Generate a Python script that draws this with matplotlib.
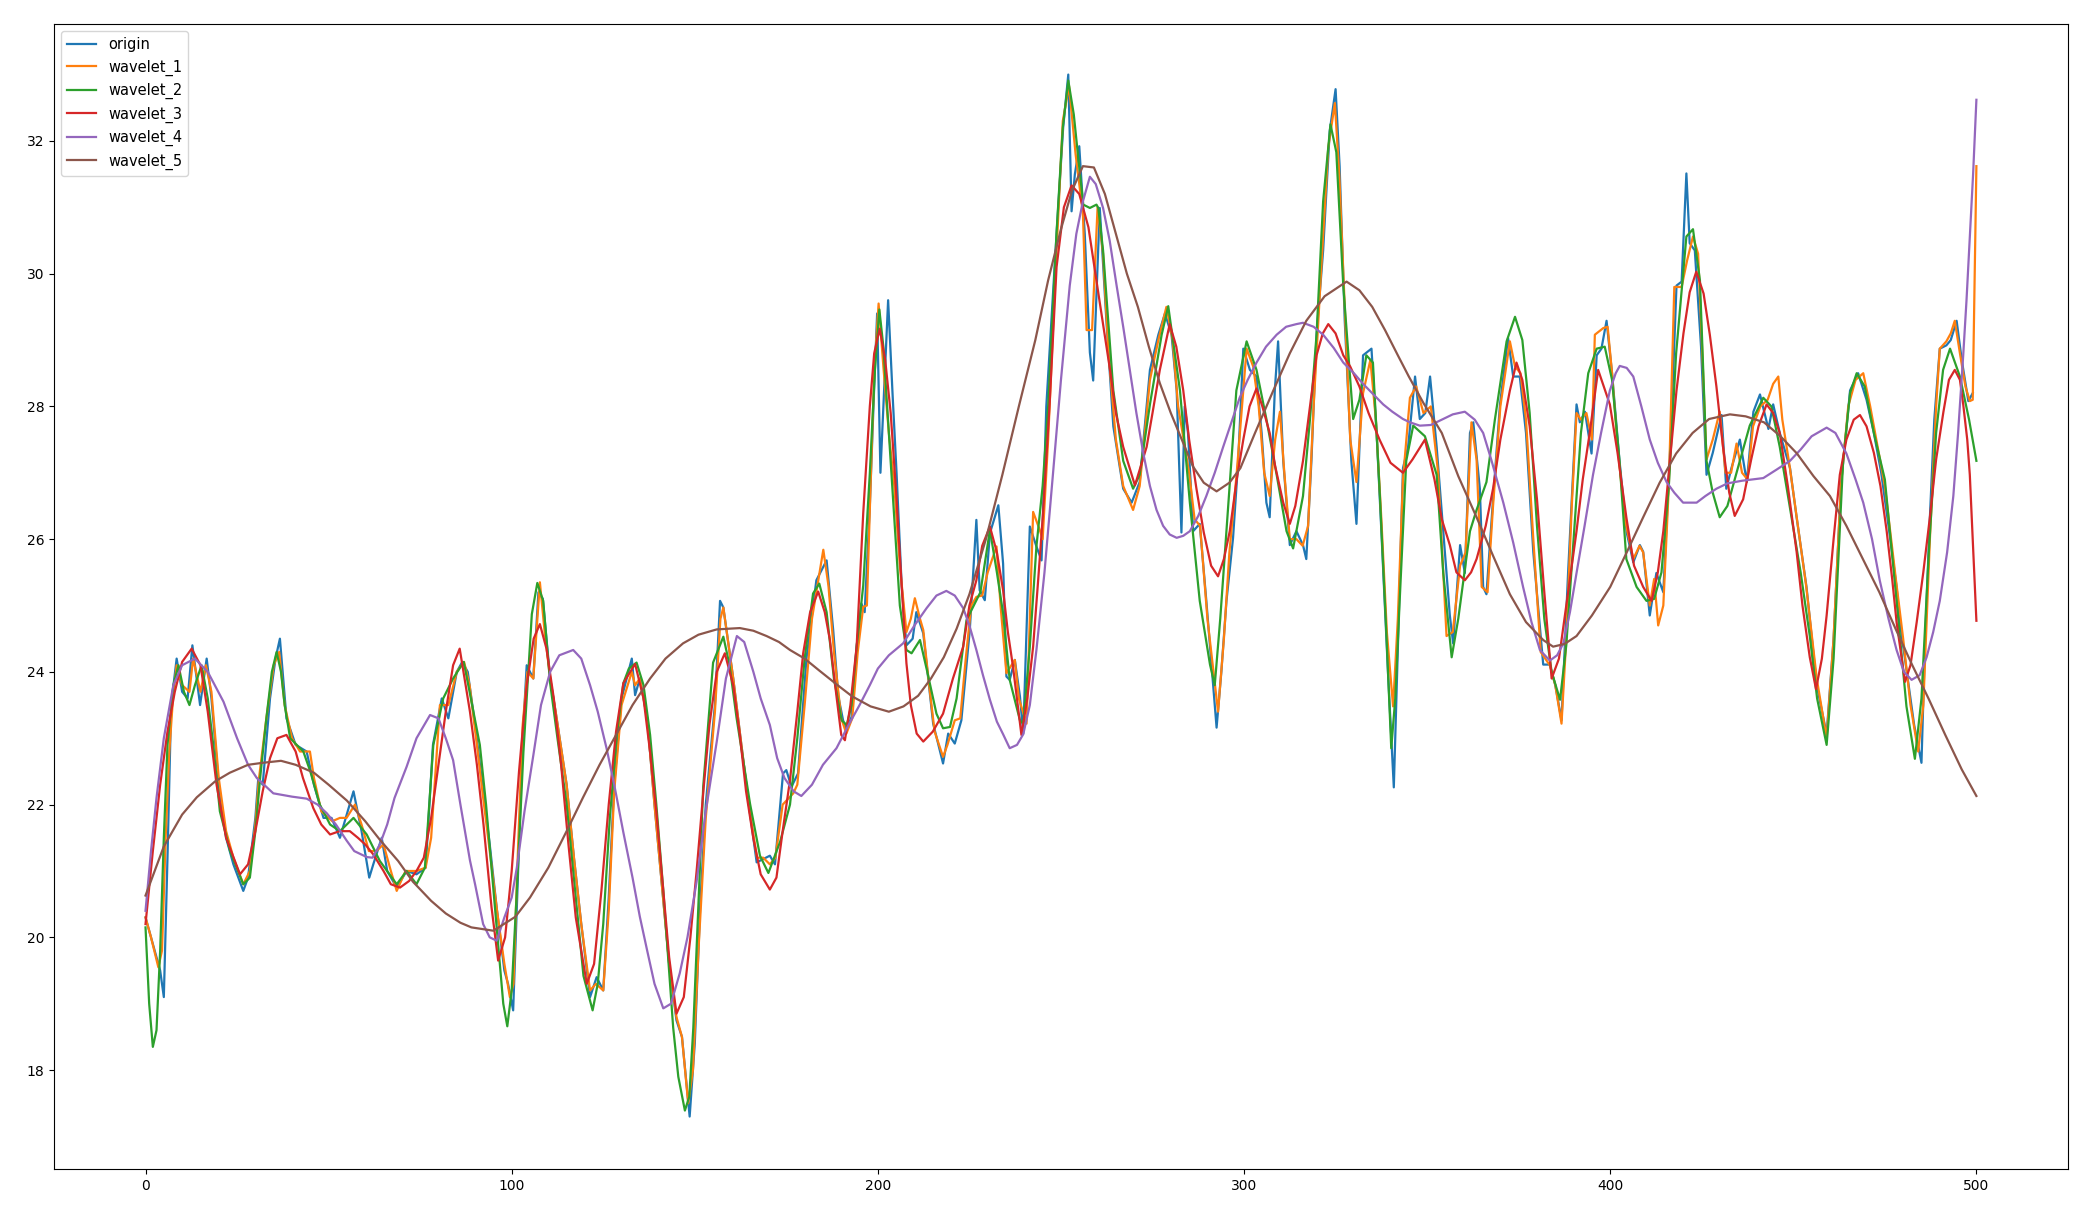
import numpy as np
import matplotlib
matplotlib.use("Agg")
from matplotlib import pyplot as plt

####################################### data (x, value)
origin = [
    (0, 20.3), (2, 19.9), (4, 19.5), (5, 19.1), (6, 21.2), (7, 23.5), (8.5, 24.2), (10, 23.7), (11.5, 23.6),
    (12.8, 24.4), (14.9, 23.5), (16.7, 24.2), (18, 23.6), (20, 22.3), (22, 21.5), (24, 21.1), (26.7, 20.7),
    (28, 20.9), (30, 21.8), (30.8, 22.4), (32, 22.3), (34, 23.6), (35.5, 24.2), (36.7, 24.5), (38.5, 23.3),
    (41, 22.9), (44, 22.8), (46, 22.3), (48.6, 21.8), (50.8, 21.8), (53.1, 21.5), (56.8, 22.2), (59, 21.6),
    (61.1, 20.9), (62.2, 21.1), (64.5, 21.5), (66, 21.0), (68.6, 20.75), (71.3, 21.0), (74, 20.95), (76.5, 21.05),
    (78.5, 22.9), (80.9, 23.6), (82.7, 23.3), (85, 24.0), (86.5, 24.15),
    (88, 24.0), (90, 23.2), (92, 22.3), (94, 21.4), (96, 20.4), (98, 19.5), (99, 19.3), (100.4, 18.9),
    (101.5, 20.6), (103, 23.0), (104.1, 24.1), (105.9, 23.9), (107.3, 25.2), (108.5, 25.1), (110.5, 23.9),
    (112, 23.4), (115, 22.3), (117, 21.2), (119, 20.2), (121.4, 19.1), (123.2, 19.4), (125, 19.2), (126.5, 20.6),
    (128, 22.3), (130, 23.6), (132.8, 24.2), (133.7, 23.65), (135, 23.9), (137, 23.3), (139, 22.0), (141, 20.8),
    (143, 19.6), (145, 18.75), (146.5, 18.5), (148.6, 17.3), (150, 18.4), (151.5, 20.5), (153, 22.0),
    (155.5, 23.5), (156.9, 25.07), (157.8, 24.97), (160.5, 23.9), (162.5, 23.0), (165, 21.9), (166.9, 21.13),
    (170.5, 21.23), (171.9, 21.1), (174.1, 22.47), (175, 22.52), (176.4, 22.27), (178.2, 22.47), (180.5, 24.2),
    (183.2, 25.38), (186, 25.68), (187.8, 24.63), (189.2, 23.63), (190.5, 23.27), (191.4, 23.12), (192.8, 23.32),
    (194.2, 24.38), (195.5, 25.03), (196.4, 24.9), (197.8, 26.5), (199, 28.3), (199.8, 29.4), (200.7, 27.0),
    (202.8, 29.6), (204, 28.2), (205.1, 27.0), (206.5, 25.3), (207.8, 24.4), (209.5, 24.5), (210.5, 24.9),
    (212.4, 24.58), (215.1, 23.22), (217.8, 22.62), (219.2, 23.07), (221, 22.92), (222.8, 23.27), (225.1, 24.63),
    (226.9, 26.29), (227.8, 25.23), (229.2, 25.08), (230.6, 26.09), (232.9, 26.51), (234.2, 25.63), (235.1, 23.93),
    (236, 23.88), (237.4, 24.18), (238.8, 23.63), (239.7, 23.07), (241.5, 26.19), (243.3, 25.89), (244.7, 25.68),
    (246, 28.0), (248.8, 30.6), (250.6, 32.2), (252, 33.0), (252.9, 30.94), (253.8, 31.5), (255, 31.92),
    (256.5, 30.6), (257.9, 28.81), (258.8, 28.39), (260.6, 30.99), (262.4, 29.3), (264.3, 27.7), (267, 26.76),
    (269.3, 26.55), (271.5, 26.86), (274.3, 28.55), (276.6, 29.08), (278.4, 29.4), (280.2, 29.08), (281.6, 28.24),
    (282.9, 26.1), (283.8, 28.0), (284.7, 27.6), (286.1, 26.12), (287.9, 26.23), (289.7, 25.07), (292.5, 23.16),
    (293.8, 24.0), (295.2, 25.07), (297, 26.02), (298.4, 27.18), (299.8, 28.87), (301.6, 28.55), (303.4, 28.45),
    (304.8, 27.6), (306.1, 26.55), (307, 26.33), (308.4, 28.24), (309.3, 28.98), (310.7, 27.18), (312.5, 25.91),
    (314.3, 26.12), (316.1, 25.91), (317, 25.7), (318.4, 27.18), (319.8, 29.08), (321.6, 30.35), (323.4, 32.15),
    (325, 32.78), (326.1, 31.62), (327.5, 29.29), (329.3, 27.18), (330.7, 26.23), (332.5, 28.77), (334.8, 28.87),
    (336.2, 27.6), (337.5, 26.12), (339.3, 24.0), (340.9, 22.26), (342.1, 24.54), (343.4, 27.07), (344.8, 27.39),
    (346.7, 28.45), (348, 27.81), (349.5, 27.9), (350.8, 28.45), (352.6, 27.39), (354.4, 26.12), (356.2, 24.85),
    (357.1, 24.43), (359, 25.91), (360.3, 25.49), (361.7, 27.6), (362.6, 27.76), (364.4, 26.76), (365.3, 25.28),
    (366.2, 25.17), (368, 26.6), (369.9, 28.03), (372.1, 29.03), (373.5, 28.45), (375.3, 28.45), (377, 27.6),
    (379, 25.8), (381.7, 24.11), (383.5, 24.11), (385, 23.8), (386.7, 23.27), (388.5, 25.5), (390.8, 28.03),
    (391.7, 27.76), (393.1, 27.92), (394.9, 27.29), (396.3, 28.77), (397.6, 28.87), (399, 29.29), (400.5, 28.5),
    (402.5, 27.2), (404.5, 26.1), (406.3, 25.65), (408.1, 25.91), (409, 25.81), (410.8, 24.85), (412.6, 25.49),
    (414.5, 25.2), (416.5, 27.5), (418.1, 29.82), (419.5, 29.88), (420.8, 31.51), (421.7, 30.46), (423.1, 30.35),
    (424.8, 28.9), (426.3, 26.97), (428, 27.3), (430.4, 27.87), (431.7, 26.76), (433.1, 27.07), (435.4, 27.5),
    (437.3, 26.86), (439.1, 27.92), (440.9, 28.18), (443.2, 27.66), (444.5, 28.03), (446.3, 27.6), (449.1, 27.07),
    (450.9, 26.33), (453.6, 25.28), (456.4, 23.8), (459.1, 23.06), (461, 24.5), (463, 26.8), (465.5, 28.24),
    (467.7, 28.5), (470, 28.1), (472, 27.6), (474, 27.0), (476, 26.2), (478.2, 25.28), (479.1, 24.75),
    (481, 24.0), (483, 23.2), (485, 22.63), (486, 24.5), (487.3, 26.33), (488.5, 27.8), (490, 28.87),
    (491.8, 28.92), (493, 29.0), (494.6, 29.29), (496, 28.7), (497.8, 28.08), (499, 28.2),
]

wavelet_1 = [
    (0, 20.3), (1.5, 20.0), (3.5, 19.55), (4.5, 19.8), (5.5, 21.5), (6.5, 22.8), (7.5, 23.6), (8.5, 24.1),
    (10, 23.8), (12, 23.7), (13, 24.2), (15, 23.7), (16.5, 24.1), (18, 23.7), (20, 22.4), (22, 21.6), (24, 21.2),
    (26.7, 20.8), (28.5, 21.0), (30, 21.7), (31, 22.4), (33, 23.3), (35, 24.1), (36.5, 24.3), (38, 23.5),
    (40, 23.0), (42.2, 22.8), (44.9, 22.8), (46, 22.4), (48, 21.9), (51, 21.75), (53.1, 21.8), (54.9, 21.8),
    (57.2, 22.0), (59, 21.7), (61, 21.3), (63, 21.3), (65, 21.4), (67, 21.0), (68.6, 20.7), (71, 21.0),
    (74, 21.0), (76.5, 21.05), (78, 21.5), (80.4, 23.5), (82.7, 23.5), (85, 24.0), (87, 24.15),
    (88.5, 23.8), (90.5, 22.9), (92, 22.2), (94, 21.3), (96, 20.4), (98, 19.6), (99.5, 19.1), (100.5, 19.3),
    (101.5, 21.0), (103, 23.2), (104.3, 24.0), (105.9, 23.9), (107.7, 25.35), (109, 24.6), (110.5, 23.9),
    (112, 23.4), (115, 22.3), (117, 21.2), (119, 20.2), (121.4, 19.2), (123, 19.3), (125, 19.2), (126.5, 20.4),
    (128, 22.2), (130, 23.5), (132.8, 24.0), (133.7, 23.8), (135, 23.9), (137, 23.3), (139, 22.0), (141, 20.8),
    (143, 19.6), (145, 18.8), (146.5, 18.5), (148.2, 17.5), (149.5, 18.0), (151, 19.8), (153, 21.8),
    (155.5, 23.4), (157, 24.8), (157.8, 24.97), (160.5, 23.9), (162.5, 23.0), (165, 21.9), (167, 21.2),
    (168.7, 21.2), (170.5, 21.1), (172, 21.2), (174, 22.0), (176.9, 22.17), (178, 22.3), (180, 23.5),
    (182, 24.8), (185.1, 25.84), (186.5, 25.3), (188, 24.3), (190, 23.3), (191.4, 23.07), (193, 23.3),
    (194.5, 24.3), (196, 24.98), (197, 25.0), (198, 26.8), (199, 28.5), (200.2, 29.55), (201.5, 28.6),
    (203, 27.6), (204.5, 26.8), (206, 25.6), (207.8, 24.6), (209, 24.8), (210.1, 25.11), (211.5, 24.8),
    (212.4, 24.63), (214, 23.8), (215.5, 23.1), (217.8, 22.72), (219, 22.9), (221, 23.27), (222.5, 23.3),
    (224, 24.2), (225.5, 25.0), (226.9, 25.13), (228.5, 25.15), (230, 25.5), (232.4, 25.89), (233.5, 25.0),
    (235.1, 23.98), (237.4, 24.18), (238.5, 23.6), (240.6, 23.22), (242.4, 26.41), (244.2, 26.14), (245, 26.0),
    (246.5, 27.5), (248.5, 30.0), (250.5, 32.3), (252.2, 32.83), (254, 31.8), (256, 30.9), (257, 29.15),
    (258.5, 29.15), (260, 31.0), (261.5, 30.3), (263, 28.8), (265, 27.5), (267, 26.8), (269.7, 26.44),
    (271.5, 26.8), (274.3, 28.4), (276.6, 29.0), (278.8, 29.5), (280.5, 29.0), (282, 28.0), (283.5, 27.5),
    (285, 27.0), (286.5, 26.3), (288, 26.2), (290, 24.8), (292.9, 23.4), (294.5, 24.5), (296, 25.8), (298, 27.0),
    (300.7, 28.87), (302.5, 28.6), (304, 28.0), (305.5, 27.0), (307, 26.65), (308.5, 27.5), (309.8, 27.92),
    (311, 27.0), (312.5, 26.0), (314.3, 26.0), (316, 25.9), (317.5, 26.2), (319, 28.0), (321, 30.0), (323, 31.9),
    (324.8, 32.57), (326, 31.5), (327.5, 29.5), (329, 27.5), (330.7, 26.86), (332.5, 28.2), (334.5, 28.7),
    (336, 27.8), (337.5, 26.3), (339, 24.6), (340.7, 23.48), (342, 24.8), (343.4, 26.9), (345.3, 28.13),
    (347, 28.3), (349, 27.9), (351, 28.0), (353, 27.0), (355.3, 24.54), (357, 24.6), (359, 25.6), (360.5, 25.8),
    (362.1, 27.76), (363.5, 27.2), (364.9, 25.28), (366.5, 25.2), (368, 26.5), (370, 28.0), (372.6, 28.98),
    (374, 28.6), (375.5, 28.5), (377, 27.8), (379, 26.0), (381, 24.3), (383.5, 24.1), (385, 23.8),
    (386.7, 23.22), (388, 24.5), (389.5, 26.5), (390.8, 27.9), (392, 27.8), (393.5, 27.9), (395, 27.5),
    (395.8, 29.08), (398.1, 29.18), (399.3, 29.2), (400.5, 28.5), (402, 27.4), (404, 26.3), (406.3, 25.7),
    (408, 25.9), (409, 25.8), (410.8, 25.0), (412, 25.4), (413.1, 24.7), (414.5, 25.0), (416, 26.8),
    (417.5, 29.8), (419.5, 29.8), (421, 30.2), (422.6, 30.56), (424, 30.3), (425, 29.0), (426.3, 27.2),
    (428, 27.5), (429.9, 27.92), (431.5, 27.0), (433, 27.0), (434.5, 27.44), (436, 27.0), (437.5, 26.9),
    (439, 27.7), (441, 28.0), (443, 28.1), (444.5, 28.34), (445.9, 28.45), (447, 27.8), (449, 27.1), (451, 26.3),
    (453.5, 25.3), (456.4, 23.9), (459.1, 23.0), (461, 24.5), (463, 26.8), (465, 28.0), (467, 28.4),
    (469.1, 28.5), (471, 28.0), (473, 27.4), (475, 26.8), (478, 25.4), (480, 24.5), (482, 23.5), (484.1, 22.8),
    (485.5, 23.5), (487.3, 26.0), (489, 28.0), (490, 28.87), (491.8, 28.98), (493, 29.1), (494.1, 29.29),
    (495.5, 28.8), (497, 28.3), (498.2, 28.08), (499, 28.1), (500, 31.62),
]

wavelet_2 = [
    (0, 20.15), (1, 19.0), (2, 18.35), (3, 18.6), (4, 19.8), (5, 21.5), (6, 22.9), (7.6, 23.8), (9, 24.1),
    (10.5, 23.7), (12, 23.5), (13.5, 23.8), (15.3, 24.1), (17, 23.6), (18.5, 22.9), (20.3, 21.9), (23.1, 21.3),
    (26.7, 20.8), (28.5, 20.9), (30, 21.6), (31.3, 22.4), (33, 23.3), (34.5, 24.0), (35.8, 24.3), (37, 24.0),
    (38, 23.5), (39.5, 23.0), (43.1, 22.8), (45, 22.5), (47.6, 22.0), (50.4, 21.7), (53.1, 21.6), (56.8, 21.8),
    (60.4, 21.55), (64, 21.15), (68.6, 20.8), (71.3, 21.0), (74, 20.8), (76.3, 21.05), (78.6, 22.9),
    (81.3, 23.6), (84, 23.9), (86.9, 24.15),
    (88.5, 23.7), (91.3, 22.9), (93, 22.0), (95, 20.72), (97.7, 19.0), (98.8, 18.66), (100, 19.2),
    (101.4, 20.7), (103.2, 22.79), (105.5, 24.87), (107, 25.34), (108.6, 25.07), (110.5, 23.83), (112.5, 23.0),
    (115, 22.01), (117.5, 20.6), (119.6, 19.42), (122.1, 18.9), (123.5, 19.3), (125, 20.2), (126.8, 21.8),
    (128.7, 23.05), (130.5, 23.83), (132, 24.05), (134.1, 24.14), (136, 23.8), (137.8, 23.05), (139.5, 22.0),
    (141.4, 20.71), (144.1, 18.64), (145.5, 17.9), (147.3, 17.39), (148.5, 17.6), (149.6, 18.64), (151, 20.5),
    (152.3, 22.27), (155, 24.14), (157.8, 24.53), (159.5, 24.1), (161.4, 23.31), (165.1, 22.01),
    (167.8, 21.23), (170.1, 20.97), (173.3, 21.44), (176, 22.0), (178, 23.0), (180, 24.2), (182.3, 25.18),
    (184, 25.33), (186, 24.9), (188, 23.9), (190.1, 23.27), (191.5, 23.2), (192.8, 23.5), (194.2, 24.38),
    (196, 25.3), (197.8, 26.99), (199.2, 28.55), (200.4, 29.46), (201.5, 28.9), (203, 27.6), (204.5, 26.3),
    (206, 25.0), (207.8, 24.33), (209.2, 24.28), (211.5, 24.48), (213.5, 24.0), (216, 23.37), (217.8, 23.15),
    (219.7, 23.17), (221.5, 23.6), (224.2, 24.78), (226, 24.98), (228, 25.2), (230.6, 26.14), (232.5, 25.5),
    (234.2, 24.88), (236, 23.88), (238.8, 23.27), (239.7, 23.22), (241.5, 24.38), (243.3, 25.89), (245, 26.8),
    (246.5, 28.0), (248.8, 30.62), (250.5, 32.2), (252, 32.91), (253.5, 32.4), (255, 31.6), (256.1, 31.04),
    (257.9, 30.99), (259.7, 31.04), (260.2, 30.99), (261.5, 30.35), (264.3, 28.24), (267, 27.18),
    (269.7, 26.76), (271.5, 26.97), (274.3, 28.03), (277.5, 29.08), (279.3, 29.51), (282.5, 28.24),
    (285.2, 26.55), (287.9, 25.07), (290.7, 24.11), (292, 23.8), (293.5, 24.8), (295.2, 26.12), (297.9, 28.24),
    (300.7, 28.98), (303.4, 28.55), (306.1, 27.81), (308.9, 26.97), (311.6, 26.12), (313.4, 25.86),
    (316.1, 26.65), (318, 27.8), (319.8, 29.08), (321.6, 31.09), (323.6, 32.25), (325.2, 31.83), (327.1, 29.82),
    (329.8, 27.81), (331.5, 28.1), (333.4, 28.77), (335.2, 28.66), (337.1, 26.65), (338.9, 24.54),
    (340.2, 22.85), (341.3, 23.6), (342.5, 25.07), (344.3, 27.18), (346.2, 27.71), (349.4, 27.55),
    (352.6, 26.97), (354.4, 25.49), (356.7, 24.22), (358.5, 24.8), (361.7, 26.12), (363.5, 26.44),
    (366.2, 26.86), (368.5, 27.8), (371.7, 28.98), (374, 29.35), (376, 29.0), (378, 27.9), (380, 26.2),
    (382, 24.8), (384, 24.0), (386.3, 23.58), (388, 24.4), (390, 26.0), (392, 27.6), (394, 28.5), (396.3, 28.87),
    (398.5, 28.9), (400.5, 28.4), (402.5, 27.2), (404.4, 25.7), (407.2, 25.28), (409.9, 25.07), (412, 25.1),
    (414, 25.5), (416, 26.8), (418, 28.8), (420.8, 30.56), (422.6, 30.67), (424.5, 29.9), (426.3, 27.18),
    (428, 26.7), (429.9, 26.33), (432, 26.5), (435, 27.1), (438.1, 27.71), (441.8, 28.13), (444, 28.0),
    (446.3, 27.39), (449, 26.5), (452, 25.5), (454.5, 24.54), (456.5, 23.6), (459.1, 22.9), (461, 24.2),
    (463.6, 27.18), (465.5, 28.2), (467.3, 28.5), (469.5, 28.3), (472, 27.6), (475, 26.9), (478.2, 25.07),
    (480.9, 23.48), (483.2, 22.69), (485, 23.6), (487, 25.8), (489, 27.6), (490.9, 28.55), (492.8, 28.87),
    (495.5, 28.45), (498, 27.8), (500, 27.18),
]

wavelet_3 = [
    (0, 20.2), (2, 21.3), (4, 22.3), (6, 23.1), (8, 23.7), (10, 24.15), (12.6, 24.35), (15, 24.1), (17, 23.4),
    (19.4, 22.3), (22, 21.5), (25.8, 20.95), (28, 21.1), (30, 21.6), (32, 22.2), (34, 22.7), (36, 23.0),
    (38.5, 23.05), (41, 22.8), (43, 22.4), (45.8, 21.95), (48, 21.7), (50.4, 21.55), (53, 21.6), (55.8, 21.6),
    (58, 21.5), (60, 21.4), (62.2, 21.25), (65, 21.0), (67, 20.8), (69.5, 20.75), (72, 20.85), (74, 21.0),
    (76, 21.2), (78, 21.8), (80, 22.6), (82, 23.4), (84, 24.1), (85.8, 24.35), (88.6, 23.4), (90.5, 22.6),
    (92.3, 21.7), (94.5, 20.45), (96.3, 19.65), (98.2, 20.0), (100, 21.0), (102, 22.5), (104.1, 23.8),
    (106, 24.5), (107.7, 24.72), (109.5, 24.35), (111.5, 23.6), (113.5, 22.6), (115.5, 21.4), (117.5, 20.3),
    (120.5, 19.3), (122.5, 19.6), (124.5, 20.7), (126.5, 22.0), (128.5, 23.1), (130.5, 23.83), (133.7, 24.12),
    (136, 23.6), (137.8, 22.79), (139.5, 21.9), (141.4, 20.71), (143, 19.7), (145, 18.85), (147, 19.1),
    (148.8, 20.0), (150.5, 21.0), (152.5, 22.3), (154, 23.2), (156, 24.0), (158.2, 24.28), (160.5, 23.8),
    (162.3, 23.05), (164, 22.2), (166, 21.49), (168, 20.95), (170.5, 20.72), (172.3, 20.9), (174, 21.6),
    (176, 22.37), (178, 23.4), (179.6, 24.28), (181.5, 24.9), (183.7, 25.21), (185.5, 24.9), (186.9, 24.48),
    (188.7, 23.63), (190, 23.05), (191, 22.97), (192.5, 23.5), (194.2, 24.38), (196, 26.39), (197.8, 28.0),
    (199, 28.8), (200.5, 29.17), (202, 28.7), (203.5, 27.9), (205, 26.7), (206.5, 25.3), (207.8, 24.13),
    (209, 23.5), (210.6, 23.07), (212.4, 22.95), (215, 23.1), (217.8, 23.37), (220.5, 23.9), (223.3, 24.38),
    (225, 25.0), (226.9, 25.38), (228.5, 25.9), (230.6, 26.19), (232.5, 25.8), (234.2, 25.23), (235.5, 24.6),
    (236.9, 24.08), (239.2, 23.05), (240.8, 23.6), (242.4, 24.38), (243.8, 25.4), (245.1, 26.39),
    (246.9, 28.03), (248.8, 30.1), (250.8, 31.0), (252.9, 31.33), (255, 31.2), (257.5, 30.7), (260.5, 29.6),
    (263.4, 28.55), (265, 27.9), (267, 27.39), (270.2, 26.81), (273.4, 27.39), (275, 27.9), (277, 28.55),
    (279.7, 29.24), (281.5, 28.9), (283.4, 28.24), (285, 27.5), (287, 26.76), (289, 26.1), (291, 25.6),
    (292.9, 25.44), (294.5, 25.7), (296.1, 26.12), (298, 26.9), (299.8, 27.5), (301.5, 28.0), (303.4, 28.27),
    (305, 28.0), (307, 27.6), (308.5, 27.1), (310.7, 26.55), (312.5, 26.23), (314, 26.5), (316.1, 27.18),
    (318, 28.0), (319.8, 28.77), (321.5, 29.1), (323, 29.24), (325, 29.1), (327.1, 28.77), (329, 28.6),
    (331.5, 28.3), (334, 27.9), (337, 27.5), (340, 27.15), (343.4, 27.0), (346, 27.2), (349.4, 27.5),
    (352, 26.9), (354, 26.3), (356.2, 25.91), (358, 25.5), (360.3, 25.38), (362, 25.5), (363.5, 25.7),
    (366, 26.2), (368, 26.76), (370, 27.5), (372.6, 28.24), (374.4, 28.66), (376, 28.4), (378, 27.7),
    (380, 26.6), (382, 25.2), (384, 23.9), (386, 24.2), (388, 25.0), (390.8, 26.12), (392.5, 26.9),
    (394.4, 27.6), (396.7, 28.55), (399.9, 28.03), (402, 27.3), (404.4, 26.33), (406.5, 25.6), (409, 25.28),
    (411.3, 25.07), (413, 25.5), (414.5, 26.12), (416.5, 27.3), (418.1, 28.24), (420, 29.1), (421.7, 29.72),
    (423.5, 30.03), (425.5, 29.7), (427.2, 29.08), (429, 28.3), (430.8, 27.39), (432.5, 26.7), (434, 26.35),
    (436.3, 26.6), (438.5, 27.2), (440.5, 27.7), (442.7, 28.03), (444.5, 27.9), (446.3, 27.6), (448.5, 26.8),
    (450.9, 25.81), (452.5, 25.0), (454.5, 24.22), (456.2, 23.74), (457.8, 24.2), (459.1, 24.85), (461, 26.0),
    (462.7, 26.97), (464.5, 27.5), (466.5, 27.8), (468.2, 27.87), (470, 27.7), (472, 27.3), (473.8, 26.8),
    (475.5, 26.12), (477, 25.4), (478.2, 24.75), (480.5, 23.85), (482, 24.1), (483.7, 24.75), (485.5, 25.5),
    (487.3, 26.33), (489, 27.2), (491, 27.92), (492.5, 28.4), (494.1, 28.55), (495.5, 28.4), (496.4, 28.03),
    (497.5, 27.5), (498.2, 26.97), (499, 26.0), (500, 24.77),
]

wavelet_4 = [
    (0, 20.4), (1.5, 21.3), (3, 22.1), (5, 23.0), (7.6, 23.8), (10, 24.1), (13.5, 24.2), (17, 24.0),
    (21.3, 23.55), (25, 23.0), (28, 22.6), (30.4, 22.4), (34.9, 22.17), (40, 22.12), (44, 22.09), (47, 22.0),
    (49.5, 21.87), (52, 21.7), (54.9, 21.46), (57, 21.3), (60.4, 21.21), (62, 21.2), (64, 21.4), (66, 21.7),
    (68, 22.1), (71.3, 22.57), (74, 23.0), (77.7, 23.35), (80, 23.3), (82, 23.0), (84, 22.67), (86, 22.0),
    (88.6, 21.16), (90, 20.8), (92.2, 20.2), (94, 20.0), (95.9, 19.95), (98, 20.3), (100, 20.6), (101.4, 21.05),
    (103.5, 21.9), (105.9, 22.74), (108, 23.5), (110.5, 24.0), (113, 24.25), (116.8, 24.33), (119, 24.2),
    (121.4, 23.8), (123.5, 23.4), (125.9, 22.85), (128, 22.3), (130.5, 21.58), (133, 20.9), (135, 20.31),
    (137, 19.8), (139, 19.3), (141.4, 18.93), (143.5, 19.0), (145.9, 19.46), (148, 20.0), (150.5, 20.84),
    (153, 21.9), (156, 22.95), (158.5, 23.9), (161.5, 24.54), (163.5, 24.45), (166, 24.0), (168, 23.6),
    (170.5, 23.2), (172.5, 22.7), (174.5, 22.4), (177, 22.2), (179.1, 22.13), (182, 22.3), (185, 22.6),
    (188.7, 22.85), (192, 23.2), (195, 23.5), (197.8, 23.8), (200, 24.05), (203, 24.25), (206.9, 24.43),
    (210, 24.7), (213.3, 24.96), (216, 25.15), (218.7, 25.22), (221, 25.15), (223.3, 24.96), (225, 24.7),
    (226.9, 24.33), (228.7, 23.95), (230.6, 23.58), (232.5, 23.25), (234.2, 23.06), (236, 22.85), (238, 22.9),
    (239.7, 23.06), (241.5, 23.5), (243.3, 24.33), (245.5, 25.5), (247.8, 26.97), (250, 28.4), (252.4, 29.82),
    (254.2, 30.6), (256, 31.09), (257.9, 31.46), (259.5, 31.35), (261.5, 30.99), (263.3, 30.5), (265.2, 29.82),
    (267, 29.2), (268.8, 28.55), (270.6, 27.9), (272.5, 27.29), (274.3, 26.8), (276.1, 26.44), (277.9, 26.2),
    (279.7, 26.07), (281.6, 26.02), (283.4, 26.05), (285.2, 26.12), (287.5, 26.35), (289.7, 26.65), (292, 27.0),
    (294.3, 27.39), (296.5, 27.75), (298.8, 28.13), (301, 28.4), (303.4, 28.66), (306, 28.9), (308.9, 29.08),
    (311.5, 29.2), (314.3, 29.24), (316.1, 29.26), (319, 29.2), (321.6, 29.08), (324.5, 28.88), (327.1, 28.66),
    (330, 28.5), (332.5, 28.34), (335, 28.2), (338, 28.03), (340.5, 27.92), (343.4, 27.81), (345.3, 27.76),
    (348, 27.71), (351, 27.72), (354.4, 27.81), (357, 27.88), (360.3, 27.92), (363, 27.8), (365.3, 27.6),
    (367.5, 27.2), (370.8, 26.55), (373.5, 25.95), (376.2, 25.28), (378.5, 24.75), (380.8, 24.33),
    (383.5, 24.17), (385.5, 24.25), (387.2, 24.43), (389, 24.9), (390.8, 25.49), (393, 26.2), (395.3, 26.97),
    (397.5, 27.6), (399.9, 28.24), (401.5, 28.5), (402.6, 28.61), (404.5, 28.58), (406.3, 28.45), (408.5, 28.0),
    (410.8, 27.5), (413, 27.15), (415.4, 26.86), (417.5, 26.7), (419.9, 26.55), (423.6, 26.55), (426, 26.65),
    (429, 26.76), (432, 26.84), (436, 26.88), (441.8, 26.92), (445.5, 27.05), (449.1, 27.18), (452, 27.35),
    (455, 27.55), (459.1, 27.68), (461.5, 27.6), (464.5, 27.29), (467, 26.9), (469.1, 26.55), (471.5, 26.0),
    (473.6, 25.38), (476, 24.8), (478.2, 24.33), (480.2, 24.0), (482.3, 23.88), (484.5, 23.95), (486.4, 24.22),
    (488.2, 24.6), (490, 25.07), (492, 25.8), (493.7, 26.65), (495, 27.6), (496.4, 28.77), (497.3, 29.6),
    (498.2, 30.56), (499.1, 31.5), (500, 32.62),
]

wavelet_5 = [
    (0, 20.63), (5, 21.37), (10, 21.85), (14, 22.11), (19, 22.35), (23, 22.48), (28, 22.6), (32, 22.63),
    (37, 22.66), (41, 22.6), (46, 22.48), (50, 22.3), (55, 22.06), (60, 21.75), (64, 21.47), (69, 21.15),
    (73, 20.84), (78, 20.55), (82, 20.36), (86, 20.22), (89, 20.15), (95, 20.1), (101, 20.31), (105, 20.6),
    (110, 21.05), (115, 21.6), (119.5, 22.11), (124, 22.6), (128.6, 23.06), (133, 23.5), (137.8, 23.9),
    (142, 24.2), (146.8, 24.43), (151, 24.56), (156, 24.64), (162.3, 24.66), (166, 24.62), (169.6, 24.54),
    (173, 24.45), (176, 24.33), (180, 24.2), (184, 24.02), (189, 23.8), (193, 23.63), (198, 23.48), (203, 23.4),
    (207, 23.48), (211, 23.64), (214.5, 23.9), (218, 24.22), (221.5, 24.65), (225, 25.17), (229.5, 26.0),
    (234, 26.97), (238.5, 28.0), (243, 29.0), (246.5, 29.9), (250, 30.67), (253, 31.25), (256, 31.62),
    (259, 31.6), (262, 31.2), (265, 30.6), (268, 30.0), (271, 29.5), (274, 28.9), (277, 28.35), (280, 27.9),
    (283, 27.5), (286, 27.1), (289, 26.85), (292.5, 26.72), (296, 26.85), (299, 27.07), (303, 27.6),
    (308, 28.24), (312.5, 28.8), (317, 29.29), (322, 29.66), (328, 29.88), (331.5, 29.75), (335, 29.5),
    (338.5, 29.15), (342, 28.77), (345, 28.45), (349, 28.05), (354, 27.6), (358.5, 26.95), (363.5, 26.33),
    (368, 25.75), (372.6, 25.17), (377, 24.75), (381.7, 24.48), (384.4, 24.38), (387.5, 24.42), (390.8, 24.54),
    (395, 24.85), (400, 25.28), (404.5, 25.8), (409, 26.33), (413.5, 26.85), (418, 27.29), (422.5, 27.6),
    (427, 27.81), (432.7, 27.88), (437, 27.85), (442, 27.76), (446.5, 27.55), (451, 27.29), (455.5, 26.95),
    (460, 26.65), (464.5, 26.2), (469, 25.7), (473.5, 25.2), (478, 24.64), (482.5, 24.1), (487, 23.59),
    (491.5, 23.05), (496, 22.53), (500, 22.13),
]

series = [origin, wavelet_1, wavelet_2, wavelet_3, wavelet_4, wavelet_5]
labels = ['origin', 'wavelet_1', 'wavelet_2', 'wavelet_3', 'wavelet_4', 'wavelet_5']

####################################### plot
fig = plt.figure(figsize=(20.92, 12.06), dpi=100)
ax = fig.add_axes([0.0258, 0.0307, 0.9627, 0.9493])

for s, name in zip(series, labels):
    xy = np.array(s)
    ax.plot(xy[:, 0], xy[:, 1], label=name, linewidth=1.6)

ax.set_xlim(-25, 525)
ax.set_ylim(16.51, 33.76)
ax.legend(loc='upper left', fontsize=10.5)

fig.savefig('out.png', dpi=100)
